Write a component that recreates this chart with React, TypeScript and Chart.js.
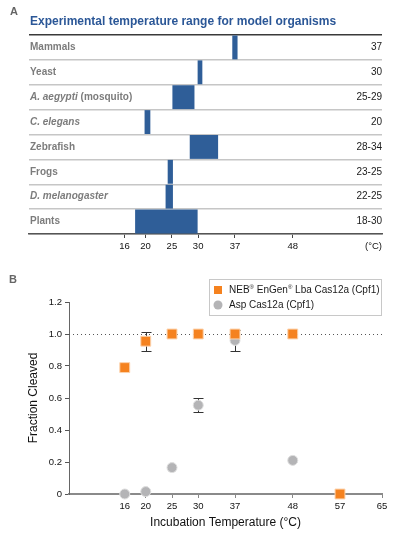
import React, { useEffect, useRef } from 'react';
import { Chart, registerables } from 'chart.js';

Chart.register(...registerables);

const FONT = '"Liberation Sans", Arial, Helvetica, sans-serif';

// ---------- Panel A data ----------
const organismItalic = ['', '', 'A. aegypti', 'C. elegans', '', '', 'D. melanogaster', ''];
const organismPlain = ['Mammals', 'Yeast', ' (mosquito)', '', 'Zebrafish', 'Frogs', '', 'Plants'];
const rangeLabels = ['37', '30', '25-29', '20', '28-34', '23-25', '22-25', '18-30'];
const rangeStart = [36.5, 29.9, 25.1, 19.8, 28.4, 24.2, 23.8, 18.0];
const rangeEnd = [37.5, 30.8, 29.3, 20.9, 33.8, 25.2, 25.2, 29.9];
const axisTicksA = [16, 20, 25, 30, 37, 48];
const titleA = 'Experimental temperature range for model organisms';

// ---------- Panel B data ----------
const temps = [16, 20, 25, 30, 37, 48, 57];
const lbaValues = [0.79, 0.955, 1.0, 1.0, 1.0, 1.0, 0];
const lbaErrors = [0, 0.06, 0, 0, 0, 0, 0];
const aspValues: (number | null)[] = [0, 0.015, 0.165, 0.555, 0.96, 0.21, null];
const aspErrors = [0, 0, 0, 0.045, 0.065, 0, 0];
const axisTicksB = [16, 20, 25, 30, 37, 48, 57, 65];
const yTicksB = [0, 0.2, 0.4, 0.6, 0.8, 1.0, 1.2];
const lbaLabel = 'NEB® EnGen® Lba Cas12a (Cpf1)';
const aspLabel = 'Asp Cas12a (Cpf1)';

const BLUE = '#2f5e98';
const ORANGE = '#f5821f';
const GRAY = '#b4b4b6';

const panelAPlugin = {
  id: 'panelA',
  afterDraw(chart: any) {
    const { ctx, chartArea, scales } = chart;
    const y = scales.y;
    ctx.save();
    ctx.textBaseline = 'middle';
    ctx.fillStyle = '#666';
    ctx.font = `bold 11px ${FONT}`;
    ctx.textAlign = 'left';
    ctx.fillText('A', 10, 12);
    ctx.fillStyle = '#2b5797';
    ctx.font = `bold 12px ${FONT}`;
    ctx.fillText(titleA, 30, 22);
    for (let i = 0; i < organismPlain.length; i++) {
      const py = y.getPixelForValue(i);
      let px = chartArea.left + 1;
      ctx.fillStyle = '#7c7c7c';
      ctx.textAlign = 'left';
      if (organismItalic[i]) {
        ctx.font = `italic bold 10px ${FONT}`;
        ctx.fillText(organismItalic[i], px, py);
        px += ctx.measureText(organismItalic[i]).width;
      }
      if (organismPlain[i]) {
        ctx.font = `bold 10px ${FONT}`;
        ctx.fillText(organismPlain[i], px, py);
      }
      ctx.fillStyle = '#1a1a1a';
      ctx.font = `10px ${FONT}`;
      ctx.textAlign = 'right';
      ctx.fillText(rangeLabels[i], chartArea.right, py);
    }
    ctx.font = `9.5px ${FONT}`;
    ctx.textAlign = 'right';
    ctx.fillStyle = '#111';
    ctx.fillText('(°C)', chartArea.right, chartArea.bottom + 12);
    ctx.restore();
  },
};

const refLinePlugin = {
  id: 'refLine',
  beforeDatasetsDraw(chart: any) {
    const { ctx, chartArea, scales } = chart;
    const py = Math.round(scales.y.getPixelForValue(1.0)) + 0.5;
    ctx.save();
    ctx.setLineDash([1, 3]);
    ctx.strokeStyle = '#555';
    ctx.lineWidth = 1;
    ctx.beginPath();
    ctx.moveTo(chartArea.left, py);
    ctx.lineTo(chartArea.right, py);
    ctx.stroke();
    ctx.restore();
  },
};

const errorBarPlugin = {
  id: 'errorBars',
  beforeDatasetsDraw(chart: any) {
    const { ctx, scales } = chart;
    const x = scales.x;
    const y = scales.y;
    ctx.save();
    ctx.strokeStyle = '#333';
    ctx.lineWidth = 1;
    chart.data.datasets.forEach((ds: any) => {
      ds.data.forEach((p: any) => {
        if (!p.err) return;
        const px = Math.round(x.getPixelForValue(p.x)) + 0.5;
        const top = Math.round(y.getPixelForValue(p.y + p.err)) + 0.5;
        const bot = Math.round(y.getPixelForValue(p.y - p.err)) + 0.5;
        ctx.beginPath();
        ctx.moveTo(px, top);
        ctx.lineTo(px, bot);
        ctx.moveTo(px - 5, top);
        ctx.lineTo(px + 5, top);
        ctx.moveTo(px - 5, bot);
        ctx.lineTo(px + 5, bot);
        ctx.stroke();
      });
    });
    ctx.restore();
  },
};

const panelBPlugin = {
  id: 'panelB',
  afterDraw(chart: any) {
    const { ctx } = chart;
    ctx.save();
    ctx.textBaseline = 'middle';
    ctx.textAlign = 'left';
    ctx.fillStyle = '#666';
    ctx.font = `bold 11px ${FONT}`;
    ctx.fillText('B', 9, 20);
    ctx.strokeStyle = '#c8c8c8';
    ctx.lineWidth = 1;
    ctx.fillStyle = '#fff';
    ctx.fillRect(209.5, 19.5, 172, 36);
    ctx.strokeRect(209.5, 19.5, 172, 36);
    const ds = chart.data.datasets;
    const rows = [30, 45];
    ds.forEach((d: any, i: number) => {
      const cy = rows[i];
      ctx.fillStyle = d.backgroundColor;
      if (d.pointStyle === 'rect') {
        ctx.fillRect(214, cy - 4, 8, 8);
      } else {
        ctx.beginPath();
        ctx.arc(218, cy, 4.5, 0, Math.PI * 2);
        ctx.fill();
      }
      ctx.fillStyle = '#1a1a1a';
      let px = 229;
      const parts = String(d.label).split('®');
      parts.forEach((part: string, k: number) => {
        ctx.font = `10px ${FONT}`;
        ctx.fillText(part, px, cy);
        px += ctx.measureText(part).width;
        if (k < parts.length - 1) {
          ctx.font = `6px ${FONT}`;
          ctx.fillText('®', px, cy - 3);
          px += ctx.measureText('®').width;
        }
      });
    });
    ctx.restore();
  },
};

export default function App() {
  const refA = useRef<HTMLCanvasElement>(null);
  const refB = useRef<HTMLCanvasElement>(null);

  useEffect(() => {
    Chart.defaults.font.family = FONT;
    const chartA = new Chart(refA.current as HTMLCanvasElement, {
      type: 'bar',
      data: {
        labels: organismItalic.map((it, i) => it + organismPlain[i]),
        datasets: [
          {
            data: rangeStart.map((s, i) => [s, rangeEnd[i]]) as any,
            backgroundColor: BLUE,
            borderWidth: 0,
            barPercentage: 0.96,
            categoryPercentage: 1,
          },
        ],
      },
      options: {
        indexAxis: 'y',
        responsive: false,
        animation: false,
        layout: { padding: { left: 29, right: 16, top: 35, bottom: 0 } },
        plugins: { legend: { display: false }, tooltip: { enabled: false } },
        scales: {
          x: {
            type: 'linear',
            min: -2.2,
            max: 65,
            afterBuildTicks: (s: any) => {
              s.ticks = axisTicksA.map((v) => ({ value: v }));
            },
            ticks: {
              color: '#111',
              font: { size: 9.5, family: FONT },
              padding: 3,
              maxRotation: 0,
              autoSkip: false,
            },
            grid: { drawOnChartArea: false, drawTicks: true, tickLength: 4, color: '#444', lineWidth: 1 },
            border: { color: '#555', width: 1.5 },
            afterFit: (s: any) => {
              s.height = 26;
            },
          },
          y: {
            type: 'category',
            offset: true,
            ticks: { display: false },
            grid: {
              offset: true,
              drawTicks: false,
              color: (c: any) => (c.index === 0 ? '#3a3a3a' : '#c6c6c6'),
              lineWidth: 1.5,
            },
            border: { display: false },
            afterFit: (s: any) => {
              s.width = 0;
            },
          },
        },
      } as any,
      plugins: [panelAPlugin],
    });

    const mk = (vals: (number | null)[], errs: number[]) =>
      temps
        .map((t, i) => ({ x: t, y: vals[i], err: errs[i] }))
        .filter((p) => p.y !== null);

    const chartB = new Chart(refB.current as HTMLCanvasElement, {
      type: 'scatter',
      data: {
        datasets: [
          {
            label: lbaLabel,
            data: mk(lbaValues, lbaErrors) as any,
            pointStyle: 'rect',
            backgroundColor: ORANGE,
            borderColor: '#fcd3ae',
            borderWidth: 1,
            pointRadius: 7,
            clip: false,
          },
          {
            label: aspLabel,
            data: mk(aspValues, aspErrors) as any,
            pointStyle: 'circle',
            backgroundColor: GRAY,
            borderColor: '#dedede',
            borderWidth: 1,
            pointRadius: 5,
            clip: false,
          },
        ],
      },
      options: {
        responsive: false,
        animation: false,
        layout: { padding: { left: 0, right: 16, top: 42, bottom: 0 } },
        plugins: { legend: { display: false }, tooltip: { enabled: false } },
        scales: {
          x: {
            type: 'linear',
            min: 5.38,
            max: 65,
            afterBuildTicks: (s: any) => {
              s.ticks = axisTicksB.map((v) => ({ value: v }));
            },
            ticks: {
              color: '#111',
              font: { size: 9.5, family: FONT },
              padding: 3,
              maxRotation: 0,
              autoSkip: false,
            },
            grid: { drawOnChartArea: false, drawTicks: true, tickLength: 4, color: '#888', lineWidth: 1 },
            border: { color: '#8a8a8a', width: 2 },
            title: {
              display: true,
              text: 'Incubation Temperature (°C)',
              color: '#111',
              font: { size: 12, family: FONT },
              padding: { top: 0, bottom: 9 },
            },
            afterFit: (s: any) => {
              s.height = 45;
            },
          },
          y: {
            type: 'linear',
            min: 0,
            max: 1.2,
            afterBuildTicks: (s: any) => {
              s.ticks = yTicksB.map((v) => ({ value: v }));
            },
            ticks: {
              color: '#111',
              font: { size: 9.5, family: FONT },
              padding: 3,
              callback: (v: any) => (Number(v) === 0 ? '0' : Number(v).toFixed(1)),
            },
            grid: { drawOnChartArea: false, drawTicks: true, tickLength: 4, color: '#555', lineWidth: 1 },
            border: { color: '#666', width: 1 },
            title: {
              display: true,
              text: 'Fraction Cleaved',
              color: '#111',
              font: { size: 12, family: FONT },
              padding: { top: 26, bottom: 0 },
            },
            afterFit: (s: any) => {
              s.width = 69;
            },
          },
        },
      } as any,
      plugins: [refLinePlugin, errorBarPlugin, panelBPlugin],
    });

    return () => {
      chartA.destroy();
      chartB.destroy();
    };
  }, []);

  return (
    <div style={{ position: 'absolute', left: 0, top: 0, width: 398, height: 539, background: '#fff' }}>
      <canvas ref={refA} width={398} height={260} style={{ position: 'absolute', left: 0, top: 0 }} />
      <canvas ref={refB} width={398} height={279} style={{ position: 'absolute', left: 0, top: 260 }} />
    </div>
  );
}
